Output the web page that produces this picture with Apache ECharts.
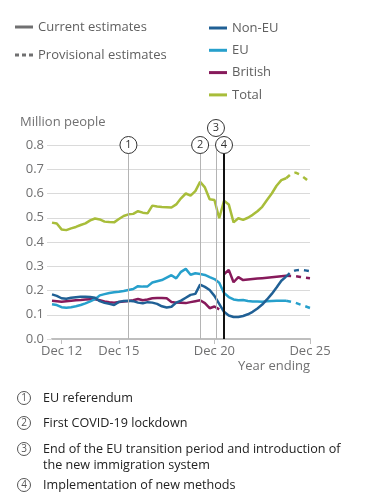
<!DOCTYPE html>
<html>
<head>
<meta charset="utf-8">
<script src="https://cdn.jsdelivr.net/npm/echarts@6/dist/echarts.min.js"></script>
<style>
html,body{margin:0;padding:0;background:#fff;}
#chart{width:380px;height:500px;}
</style>
</head>
<body>
<div id="chart"></div>
<script>
// year ending, as a decimal: Dec 12 = 2012, Jun 12 = 2011.5
var quarters = [2011.5, 2011.75, 2012, 2012.25, 2012.5, 2012.75, 2013, 2013.25, 2013.5, 2013.75,
    2014, 2014.25, 2014.5, 2014.75, 2015, 2015.25, 2015.5, 2015.75, 2016, 2016.25,
    2016.5, 2016.75, 2017, 2017.25, 2017.5, 2017.75, 2018, 2018.25, 2018.5, 2018.75,
    2019, 2019.25, 2019.5, 2019.75, 2020, 2020.25, 2020.5, 2020.75, 2021, 2021.25,
    2021.5, 2021.75, 2022, 2022.25, 2022.5, 2022.75, 2023, 2023.25, 2023.5, 2023.75];
var provQuarters = [2023.75, 2024, 2024.25, 2024.5, 2024.75, 2025];

// million people
var total = [0.480, 0.476, 0.452, 0.449, 0.456, 0.462, 0.470, 0.477, 0.489, 0.497,
    0.493, 0.484, 0.482, 0.481, 0.495, 0.507, 0.514, 0.516, 0.527, 0.521,
    0.518, 0.550, 0.546, 0.544, 0.543, 0.542, 0.555, 0.580, 0.600, 0.591,
    0.610, 0.648, 0.625, 0.576, 0.573, 0.498, 0.570, 0.555, 0.481, 0.498,
    0.491, 0.500, 0.512, 0.527, 0.545, 0.573, 0.600, 0.632, 0.655, 0.663];
var nonEu = [0.184, 0.178, 0.168, 0.166, 0.170, 0.172, 0.174, 0.174, 0.173, 0.170,
    0.156, 0.149, 0.145, 0.140, 0.153, 0.157, 0.158, 0.156, 0.150, 0.147,
    0.152, 0.150, 0.145, 0.135, 0.130, 0.133, 0.150, 0.158, 0.170, 0.182,
    0.186, 0.224, 0.215, 0.202, 0.178, 0.145, 0.112, 0.097, 0.091, 0.091,
    0.095, 0.102, 0.112, 0.126, 0.142, 0.163, 0.186, 0.212, 0.240, 0.257];
var eu = [0.143, 0.140, 0.131, 0.129, 0.131, 0.135, 0.140, 0.147, 0.155, 0.164,
    0.180, 0.185, 0.190, 0.193, 0.195, 0.198, 0.202, 0.206, 0.218, 0.216,
    0.217, 0.233, 0.238, 0.243, 0.253, 0.263, 0.250, 0.277, 0.289, 0.265,
    0.271, 0.268, 0.264, 0.255, 0.247, 0.232, 0.190, 0.173, 0.163, 0.160,
    0.161, 0.157, 0.155, 0.155, 0.154, 0.156, 0.157, 0.158, 0.158, 0.158];
// British: old methods up to Mar 21, new methods from Jun 21
var britishOld = [0.158, 0.156, 0.154, 0.156, 0.158, 0.160, 0.161, 0.163, 0.164, 0.164,
    0.160, 0.155, 0.152, 0.150, 0.153, 0.155, 0.157, 0.160, 0.165, 0.160,
    0.163, 0.168, 0.169, 0.169, 0.168, 0.153, 0.150, 0.149, 0.148, 0.152,
    0.156, 0.160, 0.148, 0.127, 0.134, 0.122];
var britishNew = [0.267, 0.285, 0.234, 0.255, 0.243, 0.245, 0.247, 0.249, 0.251, 0.253,
    0.255, 0.257, 0.259, 0.261];

// provisional estimates
var provTotal = [0.663, 0.680, 0.686, 0.677, 0.662, 0.645];
var provNonEu = [0.257, 0.276, 0.283, 0.285, 0.283, 0.280];
var provEu = [0.158, 0.154, 0.149, 0.142, 0.135, 0.128];
var provBritish = [0.261, 0.260, 0.259, 0.256, 0.253, 0.251];

var tickYears = [2012, 2015, 2020, 2025];
var events = [
    {num: '1', at: 2015.5, text: ['EU referendum']},
    {num: '2', at: 2019.25, text: ['First COVID-19 lockdown']},
    {num: '3', at: 2020.08, text: ['End of the EU transition period and introduction of', 'the new immigration system']},
    {num: '4', at: 2020.5, text: ['Implementation of new methods']}
];

var cNonEu = '#206095';
var cEu = '#27a0cc';
var cBritish = '#871a5b';
var cTotal = '#a8bd3a';
var grey = '#707071';
var font = 'Open Sans';

function pairs(xs, ys, offset) {
    var out = [];
    for (var i = 0; i < ys.length; i++) {
        out.push([xs[i + (offset || 0)], ys[i]]);
    }
    return out;
}

function line(name, color, data, dashed) {
    return {
        name: name,
        type: 'line',
        data: data,
        color: color,
        symbol: 'none',
        silent: true,
        z: 3,
        lineStyle: {width: 2.5, color: color, type: dashed ? [5, 5] : 'solid'}
    };
}

// footnotes under the chart
function footnotes() {
    var g = [];
    var rows = [398, 423, 449, 485];
    for (var i = 0; i < events.length; i++) {
        var y = rows[i];
        g.push({type: 'circle', shape: {cx: 24, cy: y, r: 6.5},
            style: {fill: '#fff', stroke: '#555', lineWidth: 1}});
        g.push({type: 'text', x: 24, y: y,
            style: {text: events[i].num, font: '10px "' + font + '"', fill: '#555', align: 'center', verticalAlign: 'middle'}});
        for (var j = 0; j < events[i].text.length; j++) {
            g.push({type: 'text', x: 43, y: y + j * 16,
                style: {text: events[i].text[j], font: '12.6px "' + font + '"', fill: '#222', verticalAlign: 'middle'}});
        }
    }
    return g;
}

var chart = echarts.init(document.getElementById('chart'));

var option = {
    animation: false,
    textStyle: {fontFamily: font},
    grid: {left: 52, right: 70, top: 145, bottom: 161},
    legend: {
        data: ['Non-EU', 'EU', 'British', 'Total'],
        orient: 'vertical',
        left: 204,
        top: 15,
        icon: 'rect',
        itemWidth: 18,
        itemHeight: 3,
        itemGap: 6.3,
        selectedMode: false,
        textStyle: {fontSize: 13, lineHeight: 16, color: '#606060'}
    },
    xAxis: {
        type: 'value',
        min: 2011.5,
        max: 2025,
        axisLine: {lineStyle: {color: '#bebebe', width: 2}},
        axisTick: {customValues: tickYears, length: 5, lineStyle: {color: '#bebebe', width: 1}},
        axisLabel: {
            customValues: tickYears,
            fontSize: 13,
            color: grey,
            margin: 6,
            formatter: function (v) { return 'Dec ' + String(v).slice(2); }
        },
        splitLine: {show: false}
    },
    yAxis: {
        type: 'value',
        min: 0,
        max: 0.8,
        interval: 0.1,
        axisLine: {show: false},
        axisTick: {show: true, length: 5, lineStyle: {color: '#dadada'}},
        axisLabel: {fontSize: 13, color: grey, margin: 8,
            formatter: function (v) { return v.toFixed(1); }},
        splitLine: {lineStyle: {color: '#dadada', width: 1}}
    },
    graphic: [
        {type: 'line', shape: {x1: 15, y1: 27, x2: 33, y2: 27}, style: {stroke: grey, lineWidth: 3}},
        {type: 'text', x: 38, y: 27, style: {text: 'Current estimates', font: '13px "' + font + '"', fill: '#606060', verticalAlign: 'middle'}},
        {type: 'line', shape: {x1: 15, y1: 55, x2: 33, y2: 55}, style: {stroke: grey, lineWidth: 3, lineDash: [4, 3]}},
        {type: 'text', x: 38, y: 55, style: {text: 'Provisional estimates', font: '13px "' + font + '"', fill: '#606060', verticalAlign: 'middle'}},
        {type: 'text', x: 20, y: 122, style: {text: 'Million people', font: '13px "' + font + '"', fill: grey, verticalAlign: 'middle'}},
        {type: 'text', x: 310, y: 366, style: {text: 'Year ending', font: '13px "' + font + '"', fill: grey, align: 'right', verticalAlign: 'middle'}}
    ].concat(footnotes()),
    series: [
        {
            name: 'events',
            type: 'line',
            data: [],
            z: 1,
            clip: false,
            silent: true,
            markLine: {
                symbol: ['none', 'none'],
                silent: true,
                label: {show: false},
                lineStyle: {type: 'solid', color: '#b4b4b4', width: 1},
                data: [
                    {xAxis: events[0].at},
                    {xAxis: events[1].at},
                    {xAxis: events[2].at},
                    {xAxis: events[3].at, lineStyle: {color: '#111', width: 2, type: 'solid'}}
                ]
            },
            markPoint: {
                symbol: 'circle',
                symbolSize: 17,
                silent: true,
                itemStyle: {color: '#fff', borderColor: '#333', borderWidth: 1},
                label: {show: true, formatter: '{b}', color: '#333', fontSize: 11, fontFamily: font},
                data: [
                    {name: events[0].num, coord: [events[0].at, 0.8]},
                    {name: events[1].num, coord: [events[1].at, 0.8]},
                    {name: events[2].num, coord: [events[2].at, 0.8], symbolOffset: [0, -17]},
                    {name: events[3].num, coord: [events[3].at, 0.8]}
                ]
            }
        },
        line('Total', cTotal, pairs(quarters, total)),
        line('British', cBritish, pairs(quarters, britishOld)),
        line('British', cBritish, pairs(quarters, britishNew, britishOld.length)),
        line('EU', cEu, pairs(quarters, eu)),
        line('Non-EU', cNonEu, pairs(quarters, nonEu)),
        line('Total provisional', cTotal, pairs(provQuarters, provTotal), true),
        line('British provisional', cBritish, pairs(provQuarters, provBritish), true),
        line('EU provisional', cEu, pairs(provQuarters, provEu), true),
        line('Non-EU provisional', cNonEu, pairs(provQuarters, provNonEu), true)
    ]
};

chart.setOption(option);
</script>
</body>
</html>
